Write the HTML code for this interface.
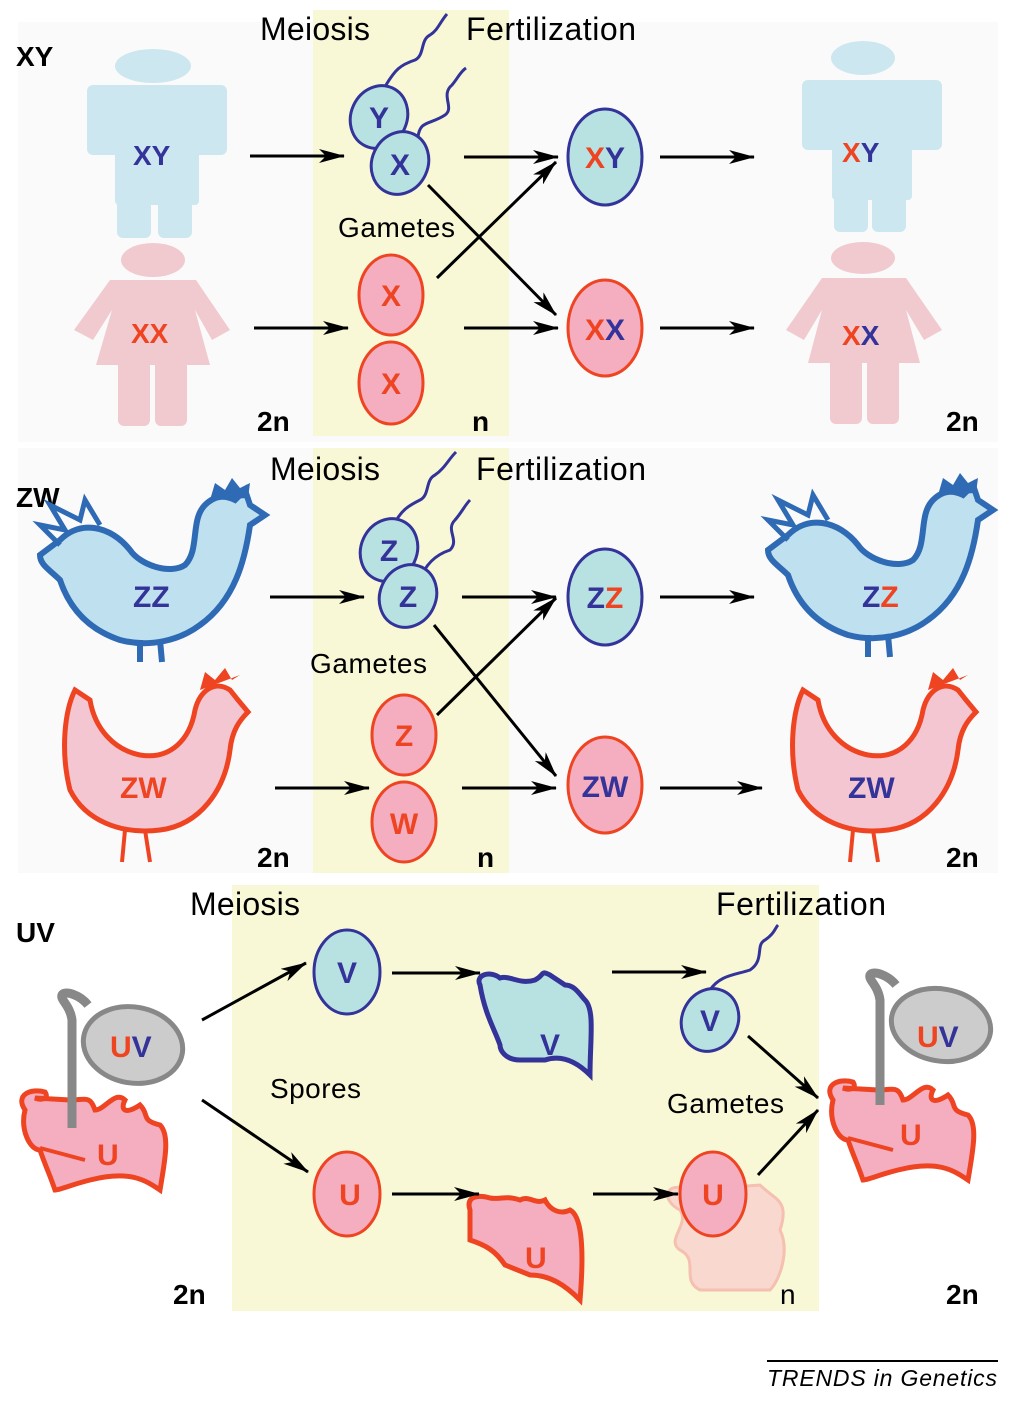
<!DOCTYPE html>
<html><head><meta charset="utf-8"><style>
html,body{margin:0;padding:0;background:#fff}
svg{display:block}
text{font-family:"Liberation Sans",sans-serif}
</style></head><body>
<svg width="1018" height="1403" viewBox="0 0 1018 1403" xmlns="http://www.w3.org/2000/svg">
<defs>
<marker id="ah2" markerWidth="26" markerHeight="14" refX="25" refY="7" orient="auto" markerUnits="userSpaceOnUse" viewBox="0 0 26 14">
<path d="M0,0 L26,7 L0,14 L7,7 z" fill="#000"/></marker>
</defs>
<rect x="18" y="22" width="980" height="420" fill="#fafafa"/>
<rect x="18" y="448" width="980" height="425" fill="#fafafa"/>
<rect x="313" y="10" width="196" height="426" fill="#f8f8d6"/>
<rect x="313" y="448" width="196" height="425" fill="#f8f8d6"/>
<rect x="232" y="885" width="587" height="426" fill="#f8f8d6"/>

<g font-size="32" fill="#000">
<text x="260" y="40" textLength="110">Meiosis</text><text x="466" y="40" textLength="170">Fertilization</text>
<text x="270" y="480" textLength="110">Meiosis</text><text x="476" y="480" textLength="170">Fertilization</text>
<text x="190" y="915" textLength="110">Meiosis</text><text x="716" y="915" textLength="170">Fertilization</text>
</g>
<g font-size="28" fill="#000">
<text x="338" y="237" textLength="117">Gametes</text><text x="310" y="673" textLength="117">Gametes</text>
<text x="270" y="1098" textLength="91">Spores</text><text x="667" y="1113" textLength="117">Gametes</text>
</g>
<g font-size="28" font-weight="bold" fill="#000">
<text x="16" y="66">XY</text><text x="16" y="507">ZW</text><text x="16" y="942">UV</text>
<text x="257" y="431">2n</text><text x="472" y="431">n</text><text x="946" y="431">2n</text>
<text x="257" y="867">2n</text><text x="477" y="867">n</text><text x="946" y="867">2n</text>
<text x="173" y="1304">2n</text><text x="946" y="1304">2n</text>
</g>
<text x="780" y="1304" font-size="28" fill="#000">n</text>

<!-- humans -->
<g fill="#cce7ef">
<ellipse cx="153" cy="66" rx="38" ry="17"/>
<rect x="87" y="85" width="140" height="70" rx="6"/>
<rect x="115" y="85" width="84" height="120" rx="4"/>
<rect x="117" y="150" width="34" height="88" rx="6"/><rect x="158" y="150" width="34" height="88" rx="6"/>
</g>
<g fill="#f1cad0">
<ellipse cx="153" cy="260" rx="32" ry="17"/>
<path d="M110,280 L196,280 L230,330 L212,340 L195,310 L210,365 L96,365 L112,310 L93,340 L74,330 Z"/>
<rect x="118" y="360" width="32" height="66" rx="6"/><rect x="155" y="360" width="32" height="66" rx="6"/>
</g>
<g transform="translate(710,0)">
<g fill="#cce7ef">
<ellipse cx="153" cy="58" rx="32" ry="17"/>
<rect x="92" y="80" width="140" height="70" rx="6"/>
<rect x="122" y="80" width="80" height="120" rx="4"/>
<rect x="124" y="150" width="34" height="82" rx="6"/><rect x="162" y="150" width="34" height="82" rx="6"/>
</g>
<g fill="#f1cad0">
<ellipse cx="153" cy="258" rx="32" ry="16"/>
<path d="M112,278 L196,278 L232,330 L214,340 L196,310 L210,363 L98,363 L112,310 L94,340 L76,330 Z"/>
<rect x="120" y="358" width="32" height="66" rx="6"/><rect x="157" y="358" width="32" height="66" rx="6"/>
</g>
</g>
<g font-size="28" font-weight="bold">
<text x="133" y="165" fill="#333399">XY</text>
<text x="131" y="343" fill="#ee4422">XX</text>
<text x="842" y="162"><tspan fill="#ee4422">X</tspan><tspan fill="#333399">Y</tspan></text>
<text x="842" y="345"><tspan fill="#ee4422">X</tspan><tspan fill="#333399">X</tspan></text>
</g>

<!-- sperm tails -->
<g fill="none" stroke="#333399" stroke-width="3">
<path d="M386,85 C395,70 400,65 415,60 C425,55 420,40 430,35 C438,30 440,22 447,14"/>
<path d="M418,137 C420,120 430,125 445,115 C455,108 440,95 452,85 C458,78 460,72 466,68"/>
<path d="M393,527 C400,510 410,505 420,500 C430,495 425,480 435,475 C445,468 448,460 456,452"/>
<path d="M420,580 C425,565 435,555 450,550 C460,540 445,530 455,520 C462,512 465,505 470,500"/>
<path d="M710,990 C720,975 735,975 750,970 C765,960 755,945 765,940 C775,933 775,928 778,925"/>
</g>
<!-- gametes -->
<g stroke-width="3">
<ellipse cx="379" cy="117" rx="28" ry="32" transform="rotate(25 379 117)" fill="#b8e2e2" stroke="#333399"/>
<ellipse cx="400" cy="163" rx="28" ry="32" transform="rotate(25 400 163)" fill="#b8e2e2" stroke="#333399"/>
<ellipse cx="391" cy="295" rx="32" ry="40" fill="#f5aebf" stroke="#ee4422"/>
<ellipse cx="391" cy="383" rx="32" ry="41" fill="#f5aebf" stroke="#ee4422"/>
<ellipse cx="605" cy="157" rx="37" ry="48" fill="#b8e2e2" stroke="#333399"/>
<ellipse cx="605" cy="328" rx="37" ry="48" fill="#f5aebf" stroke="#ee4422"/>
<ellipse cx="389" cy="550" rx="28" ry="32" transform="rotate(25 389 550)" fill="#b8e2e2" stroke="#333399"/>
<ellipse cx="408" cy="596" rx="28" ry="32" transform="rotate(25 408 596)" fill="#b8e2e2" stroke="#333399"/>
<ellipse cx="404" cy="735" rx="32" ry="40" fill="#f5aebf" stroke="#ee4422"/>
<ellipse cx="404" cy="822" rx="32" ry="40" fill="#f5aebf" stroke="#ee4422"/>
<ellipse cx="605" cy="597" rx="37" ry="48" fill="#b8e2e2" stroke="#333399"/>
<ellipse cx="605" cy="785" rx="37" ry="48" fill="#f5aebf" stroke="#ee4422"/>
<ellipse cx="347" cy="972" rx="33" ry="42" fill="#b8e2e2" stroke="#333399"/>
<ellipse cx="347" cy="1194" rx="33" ry="42" fill="#f5aebf" stroke="#ee4422"/>
<ellipse cx="710" cy="1020" rx="28" ry="32" transform="rotate(25 710 1020)" fill="#b8e2e2" stroke="#333399"/>
</g>
<path d="M680,1210 C660,1200 665,1180 690,1190 L760,1185 C775,1200 790,1200 780,1230 C790,1250 780,1280 770,1290 L700,1290 C680,1280 700,1260 680,1250 C665,1240 690,1225 680,1210 Z" fill="#f9d8cf" stroke="#f5c0b0" stroke-width="3"/>
<ellipse cx="713" cy="1194" rx="33" ry="42" fill="#f5aebf" stroke="#ee4422" stroke-width="3"/>

<g font-size="30" font-weight="bold" text-anchor="middle">
<text x="379" y="128" fill="#333399">Y</text><text x="400" y="175" fill="#333399">X</text>
<text x="391" y="306" fill="#ee4422">X</text><text x="391" y="394" fill="#ee4422">X</text>
<text x="605" y="168"><tspan fill="#ee4422">X</tspan><tspan fill="#333399">Y</tspan></text>
<text x="605" y="340"><tspan fill="#ee4422">X</tspan><tspan fill="#333399">X</tspan></text>
<text x="389" y="561" fill="#333399">Z</text><text x="408" y="607" fill="#333399">Z</text>
<text x="404" y="746" fill="#ee4422">Z</text><text x="404" y="834" fill="#ee4422">W</text>
<text x="605" y="608"><tspan fill="#333399">Z</tspan><tspan fill="#ee4422">Z</tspan></text>
<text x="605" y="797" fill="#333399">ZW</text>
<text x="347" y="983" fill="#333399">V</text><text x="350" y="1205" fill="#ee4422">U</text>
<text x="710" y="1031" fill="#333399">V</text><text x="713" y="1205" fill="#ee4422">U</text>
</g>

<!-- roosters -->
<g>
<path d="M60,540 C80,520 110,525 130,550 C140,565 170,575 185,565 C200,550 190,520 205,505 C215,495 225,495 235,500 L245,490 L250,505 L265,515 L250,525 C245,560 235,600 200,625 C180,640 150,648 120,640 C90,630 70,610 60,580 C50,570 40,565 40,555 Z" fill="#bfe0ef" stroke="#2f6ab5" stroke-width="6"/>
<path d="M60,545 L40,525 L65,530 L50,505 L80,520 L85,500 L100,525" fill="none" stroke="#2f6ab5" stroke-width="5"/>
<path d="M210,500 L215,483 L225,490 L232,478 L240,488 L250,483 L248,498 Z" fill="#2f6ab5"/>
<path d="M140,640 L140,662 M160,640 L162,662" stroke="#2f6ab5" stroke-width="6"/>
</g>
<g transform="translate(728,-5)">
<path d="M60,540 C80,520 110,525 130,550 C140,565 170,575 185,565 C200,550 190,520 205,505 C215,495 225,495 235,500 L245,490 L250,505 L265,515 L250,525 C245,560 235,600 200,625 C180,640 150,648 120,640 C90,630 70,610 60,580 C50,570 40,565 40,555 Z" fill="#bfe0ef" stroke="#2f6ab5" stroke-width="6"/>
<path d="M60,545 L40,525 L65,530 L50,505 L80,520 L85,500 L100,525" fill="none" stroke="#2f6ab5" stroke-width="5"/>
<path d="M210,500 L215,483 L225,490 L232,478 L240,488 L250,483 L248,498 Z" fill="#2f6ab5"/>
<path d="M140,640 L140,662 M160,640 L162,662" stroke="#2f6ab5" stroke-width="6"/>
</g>
<!-- hens -->
<g>
<path d="M75,690 C65,710 60,750 70,790 C85,820 120,835 160,830 C200,825 225,790 230,750 C232,730 240,720 248,712 L238,700 L230,690 C215,680 200,690 195,710 C190,740 170,760 140,755 C115,750 95,730 90,700 Z" fill="#f4c6d2" stroke="#ee4422" stroke-width="5"/>
<path d="M200,690 L205,672 L215,680 L225,668 L232,680 L240,675 Z" fill="#ee4422"/>
<path d="M125,830 L122,862 M145,830 L150,862" stroke="#ee4422" stroke-width="4"/>
</g>
<g transform="translate(728,0)">
<path d="M75,690 C65,710 60,750 70,790 C85,820 120,835 160,830 C200,825 225,790 230,750 C232,730 240,720 248,712 L238,700 L230,690 C215,680 200,690 195,710 C190,740 170,760 140,755 C115,750 95,730 90,700 Z" fill="#f4c6d2" stroke="#ee4422" stroke-width="5"/>
<path d="M200,690 L205,672 L215,680 L225,668 L232,680 L240,675 Z" fill="#ee4422"/>
<path d="M125,830 L122,862 M145,830 L150,862" stroke="#ee4422" stroke-width="4"/>
</g>
<g font-size="30" font-weight="bold">
<text x="133" y="607" fill="#333399">ZZ</text>
<text x="120" y="798" fill="#ee4422">ZW</text>
<text x="862" y="607"><tspan fill="#333399">Z</tspan><tspan fill="#ee4422">Z</tspan></text>
<text x="848" y="798" fill="#333399">ZW</text>
</g>

<!-- sporophytes -->
<g>
<path d="M25,1110 C15,1095 30,1088 45,1092 C50,1100 40,1100 35,1098 L70,1100 C85,1100 90,1095 95,1110 C105,1110 115,1090 125,1100 C120,1110 125,1115 140,1105 C150,1115 140,1120 160,1125 C170,1135 165,1160 160,1190 C145,1180 130,1170 90,1180 C70,1185 60,1190 55,1190 C50,1175 45,1165 40,1150 C30,1150 20,1130 25,1110 Z" fill="#f5aebf" stroke="#ee4422" stroke-width="5"/>
<path d="M40,1148 L85,1160" stroke="#ee4422" stroke-width="4"/>
<path d="M72,1128 L72,1020 C70,1005 60,1000 62,995 C65,990 80,995 88,1005" fill="none" stroke="#888" stroke-width="9"/>
<ellipse cx="133" cy="1045" rx="50" ry="38" transform="rotate(10 133 1045)" fill="#ccc" stroke="#888" stroke-width="5"/>
</g>
<g transform="translate(808,-10)">
<path d="M25,1110 C15,1095 30,1088 45,1092 C50,1100 40,1100 35,1098 L70,1100 C85,1100 90,1095 95,1110 C105,1110 115,1090 125,1100 C120,1110 125,1115 140,1105 C150,1115 140,1120 160,1125 C170,1135 165,1160 160,1190 C145,1180 130,1170 90,1180 C70,1185 60,1190 55,1190 C50,1175 45,1165 40,1150 C30,1150 20,1130 25,1110 Z" fill="#f5aebf" stroke="#ee4422" stroke-width="5"/>
<path d="M40,1148 L85,1160" stroke="#ee4422" stroke-width="4"/>
<path d="M72,1115 L72,1010 C70,995 60,990 62,985 C65,980 80,985 88,995" fill="none" stroke="#888" stroke-width="9"/>
<ellipse cx="133" cy="1035" rx="50" ry="36" transform="rotate(10 133 1035)" fill="#ccc" stroke="#888" stroke-width="5"/>
</g>
<g font-size="30" font-weight="bold">
<text x="110" y="1057"><tspan fill="#ee4422">U</tspan><tspan fill="#333399">V</tspan></text>
<text x="97" y="1165" fill="#ee4422">U</text>
<text x="917" y="1047"><tspan fill="#ee4422">U</tspan><tspan fill="#333399">V</tspan></text>
<text x="900" y="1145" fill="#ee4422">U</text>
</g>
<path d="M480,985 C475,975 490,970 500,978 C510,975 520,985 535,980 C545,975 540,970 550,975 L565,985 C575,985 580,995 585,1000 C595,1010 590,1040 590,1075 C575,1060 560,1055 545,1060 L520,1060 C505,1060 500,1050 500,1045 C495,1030 485,1015 480,985 Z" fill="#b8e2e2" stroke="#333399" stroke-width="5"/>
<text x="540" y="1055" font-size="30" font-weight="bold" fill="#333399">V</text>
<path d="M470,1210 C465,1195 480,1195 490,1198 C500,1200 505,1195 520,1200 C530,1195 535,1205 545,1200 C550,1210 560,1215 570,1210 C580,1215 585,1240 580,1300 C565,1285 550,1275 530,1275 L505,1265 C495,1250 485,1245 470,1240 Z" fill="#f5aebf" stroke="#ee4422" stroke-width="5"/>
<text x="525" y="1268" font-size="30" font-weight="bold" fill="#ee4422">U</text>

<g stroke="#000" stroke-width="3" fill="none" marker-end="url(#ah2)">
<line x1="250" y1="156" x2="344" y2="156"/>
<line x1="254" y1="328" x2="348" y2="328"/>
<line x1="464" y1="157" x2="558" y2="157"/>
<line x1="464" y1="328" x2="558" y2="328"/>
<line x1="428" y1="185" x2="556" y2="315"/>
<line x1="437" y1="278" x2="556" y2="162"/>
<line x1="660" y1="157" x2="754" y2="157"/>
<line x1="660" y1="328" x2="754" y2="328"/>
<line x1="270" y1="597" x2="364" y2="597"/>
<line x1="275" y1="788" x2="369" y2="788"/>
<line x1="462" y1="597" x2="556" y2="597"/>
<line x1="462" y1="788" x2="556" y2="788"/>
<line x1="434" y1="625" x2="556" y2="776"/>
<line x1="437" y1="715" x2="556" y2="598"/>
<line x1="660" y1="597" x2="754" y2="597"/>
<line x1="660" y1="788" x2="762" y2="788"/>
<line x1="202" y1="1020" x2="306" y2="963"/>
<line x1="202" y1="1100" x2="308" y2="1172"/>
<line x1="392" y1="973" x2="480" y2="973"/>
<line x1="392" y1="1194" x2="479" y2="1194"/>
<line x1="612" y1="972" x2="706" y2="972"/>
<line x1="593" y1="1194" x2="678" y2="1194"/>
<line x1="748" y1="1036" x2="818" y2="1098"/>
<line x1="758" y1="1175" x2="818" y2="1110"/>
</g>
<line x1="767" y1="1361" x2="998" y2="1361" stroke="#000" stroke-width="2"/>
<text x="767" y="1386" font-size="23" font-style="italic" fill="#000" textLength="230">TRENDS in Genetics</text>
</svg>
</body></html>
